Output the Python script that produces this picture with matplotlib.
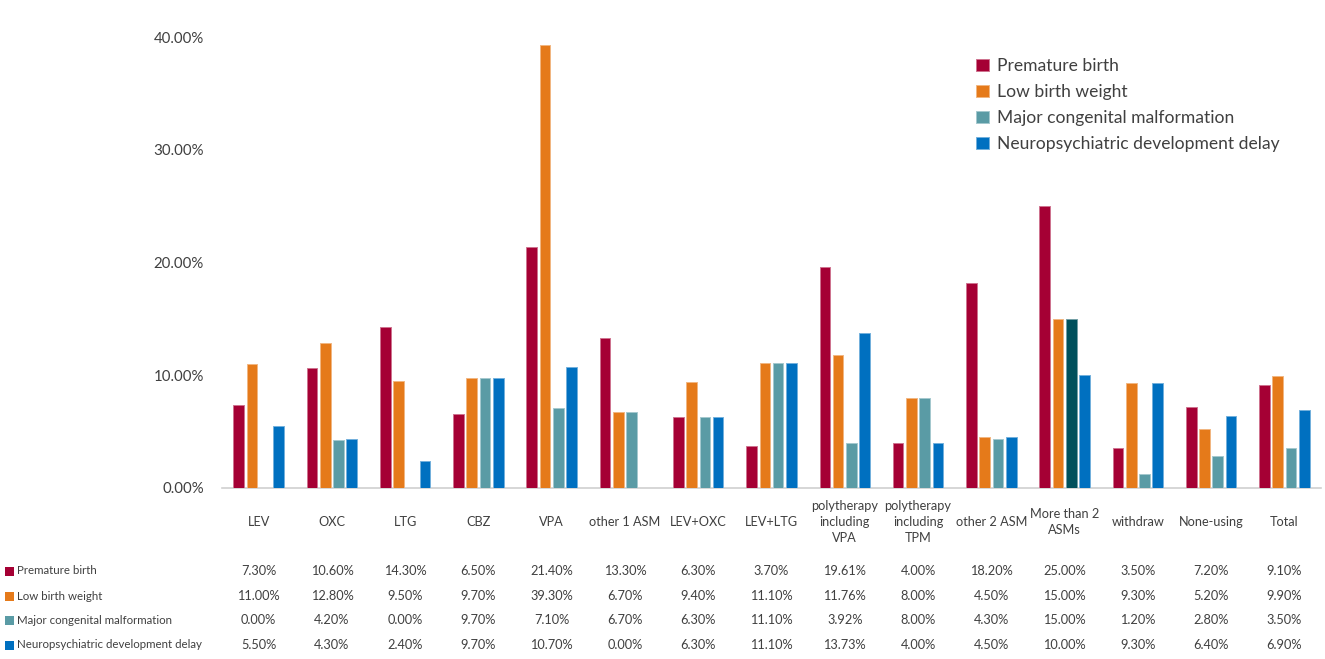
import numpy as np
import matplotlib.pyplot as plt
from matplotlib.patches import Rectangle
from matplotlib.colors import to_rgb
import matplotlib.transforms as mtransforms

plt.rcParams['font.family'] = ['Lato', 'DejaVu Sans']

categories = ["LEV", "OXC", "LTG", "CBZ", "VPA", "other 1 ASM", "LEV+OXC", "LEV+LTG",
              "polytherapy\nincluding\nVPA", "polytherapy\nincluding\nTPM", "other 2 ASM",
              "More than 2\nASMs", "withdraw", "None-using", "Total"]

series_names = ["Premature birth", "Low birth weight", "Major congenital malformation",
                "Neuropsychiatric development delay"]

premature = [7.30, 10.60, 14.30, 6.50, 21.40, 13.30, 6.30, 3.70, 19.61, 4.00, 18.20, 25.00, 3.50, 7.20, 9.10]
low_weight = [11.00, 12.80, 9.50, 9.70, 39.30, 6.70, 9.40, 11.10, 11.76, 8.00, 4.50, 15.00, 9.30, 5.20, 9.90]
malformation = [0.00, 4.20, 0.00, 9.70, 7.10, 6.70, 6.30, 11.10, 3.92, 8.00, 4.30, 15.00, 1.20, 2.80, 3.50]
neuro_delay = [5.50, 4.30, 2.40, 9.70, 10.70, 0.00, 6.30, 11.10, 13.73, 4.00, 4.50, 10.00, 9.30, 6.40, 6.90]

series = [premature, low_weight, malformation, neuro_delay]
colors = ["#A50034", "#E57A1A", "#5A9BA5", "#0070C0"]
highlight = "#00505C"  # malformation bar of "More than 2 ASMs" is drawn darker

text_col = "#404040"


def lighter(c, f=0.45):
    r, g, b = to_rgb(c)
    return (r + (1 - r) * f, g + (1 - g) * f, b + (1 - b) * f)


fig = plt.figure(figsize=(13.25, 6.59), dpi=100)
ax = fig.add_axes([222 / 1325, 0.26, 1099 / 1325, 0.718])

x = np.arange(len(categories))
width = 0.146
pitch = 0.181
offsets = (np.arange(4) - 1.5) * pitch

for k, vals in enumerate(series):
    vals = np.array(vals) / 100
    cols = [colors[k]] * len(vals)
    if k == 2:
        cols[categories.index("More than 2\nASMs")] = highlight
    ax.bar(x + offsets[k], vals, width=width, color=cols,
           edgecolor=[lighter(c) for c in cols], linewidth=0.7,
           label=series_names[k], zorder=3)

ax.set_xlim(-0.5, len(categories) - 0.5)
ax.set_ylim(0, 0.42)
ax.set_yticks([0, 0.1, 0.2, 0.3, 0.4])
ax.set_yticklabels(["0.00%", "10.00%", "20.00%", "30.00%", "40.00%"])
ax.tick_params(axis='y', length=0, pad=13, labelsize=10.8, labelcolor=text_col)
ax.set_xticks([])
for s in ["top", "right", "left"]:
    ax.spines[s].set_visible(False)
ax.spines["bottom"].set_color("#D0D0D0")
ax.spines["bottom"].set_linewidth(1.2)

leg = ax.legend(loc="upper left", bbox_to_anchor=(976 / 1325, 1 - 58 / 659),
                bbox_transform=fig.transFigure, frameon=False, fontsize=12.6,
                handlelength=0.72, handleheight=0.72, handletextpad=0.5,
                labelspacing=0.57, borderaxespad=0, borderpad=0)
for t in leg.get_texts():
    t.set_color(text_col)

# data table under the chart
trans = mtransforms.blended_transform_factory(ax.transData, fig.transFigure)
for i, cat in enumerate(categories):
    ax.text(i, 1 - 522 / 659, cat, transform=trans, ha="center", va="center",
            fontsize=9.2, color=text_col, linespacing=1.45)

row_y = [571, 596, 620, 645]
for k, vals in enumerate(series):
    yy = 1 - row_y[k] / 659
    fig.patches.append(Rectangle((5 / 1325, yy - 4.5 / 659), 9 / 1325, 9 / 659,
                                 transform=fig.transFigure, facecolor=colors[k],
                                 edgecolor="none"))
    fig.text(17 / 1325, yy, series_names[k], ha="left", va="center",
             fontsize=8.3, color=text_col)
    for i, v in enumerate(vals):
        ax.text(i, yy, "%.2f%%" % v, transform=trans, ha="center", va="center",
                fontsize=9.2, color=text_col)

fig.savefig("out.png", dpi=100)
